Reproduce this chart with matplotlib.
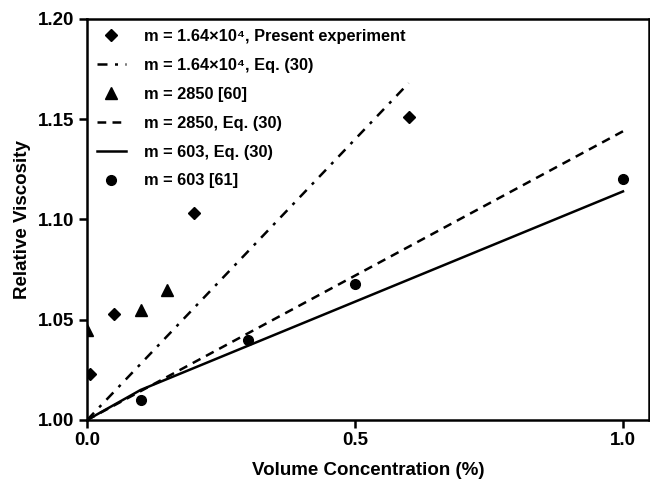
#!/usr/bin/env python3
"""Relative viscosity vs volume concentration: measurements and Eq. (30) curves."""
import matplotlib

matplotlib.use("Agg")
import matplotlib.pyplot as plt

plt.rcParams["font.family"] = ["Liberation Sans", "DejaVu Sans"]
plt.rcParams["font.weight"] = "bold"

# present experiment, m = 1.64e4
exp_x = [0.005, 0.05, 0.2, 0.6]
exp_y = [1.023, 1.053, 1.103, 1.151]
# m = 2850 [60]
ref60_x = [0.0, 0.1, 0.15]
ref60_y = [1.045, 1.055, 1.065]
# m = 603 [61]
ref61_x = [0.1, 0.3, 0.5, 1.0]
ref61_y = [1.010, 1.040, 1.068, 1.120]
# Eq. (30) curves
eq_big_x = [0.0, 0.6]
eq_big_y = [1.0, 1.168]
eq_2850_x = [0.0, 1.0]
eq_2850_y = [1.0, 1.144]
eq_603_x = [0.0, 0.1, 1.0]
eq_603_y = [1.0, 1.015, 1.114]

labels = [
    "m = 1.64\u00d710\u2074, Present experiment",
    "m = 1.64\u00d710\u2074, Eq. (30)",
    "m = 2850 [60]",
    "m = 2850, Eq. (30)",
    "m = 603, Eq. (30)",
    "m = 603 [61]",
]

fig = plt.figure(figsize=(6.5, 4.87), dpi=100)
ax = fig.add_axes([0.134, 0.1376, 0.864, 0.8234])

lw = 1.8
ax.plot(exp_x, exp_y, "D", color="black", ms=6.5, ls="none", label=labels[0])
ax.plot(eq_big_x, eq_big_y, color="black", lw=lw, dashes=(4, 3, 1.2, 3),
        label=labels[1])
ax.plot(ref60_x, ref60_y, "^", color="black", ms=8, ls="none", label=labels[2])
ax.plot(eq_2850_x, eq_2850_y, color="black", lw=lw, dashes=(3.5, 2.5),
        label=labels[3])
ax.plot(eq_603_x, eq_603_y, color="black", lw=lw, label=labels[4])
ax.plot(ref61_x, ref61_y, "o", color="black", ms=7, ls="none", label=labels[5])

ax.set_xlim(0, 1.048)
ax.set_ylim(1.0, 1.2)
ax.set_xticks([0.0, 0.5, 1.0])
ax.set_xticklabels(["0.0", "0.5", "1.0"])
ax.set_yticks([1.00, 1.05, 1.10, 1.15, 1.20])
ax.set_yticklabels(["1.00", "1.05", "1.10", "1.15", "1.20"])
ax.tick_params(direction="out", length=6, width=1.8, labelsize=13.5, pad=3)
for s in ax.spines.values():
    s.set_linewidth(1.8)
for lab in ax.get_xticklabels() + ax.get_yticklabels():
    lab.set_fontweight("bold")

ax.set_xlabel("Volume Concentration (%)", fontsize=13.5, fontweight="bold", labelpad=9)
ax.set_ylabel("Relative Viscosity", fontsize=13.5, fontweight="bold", labelpad=5)

leg = ax.legend(loc="upper left", frameon=False, fontsize=11.8, handlelength=1.75,
                borderaxespad=0.0, labelspacing=0.85, handletextpad=1.1,
                borderpad=0.6, bbox_to_anchor=(0.0, 1.0))
for t in leg.get_texts():
    t.set_fontweight("bold")

fig.savefig("out.png", dpi=100)
